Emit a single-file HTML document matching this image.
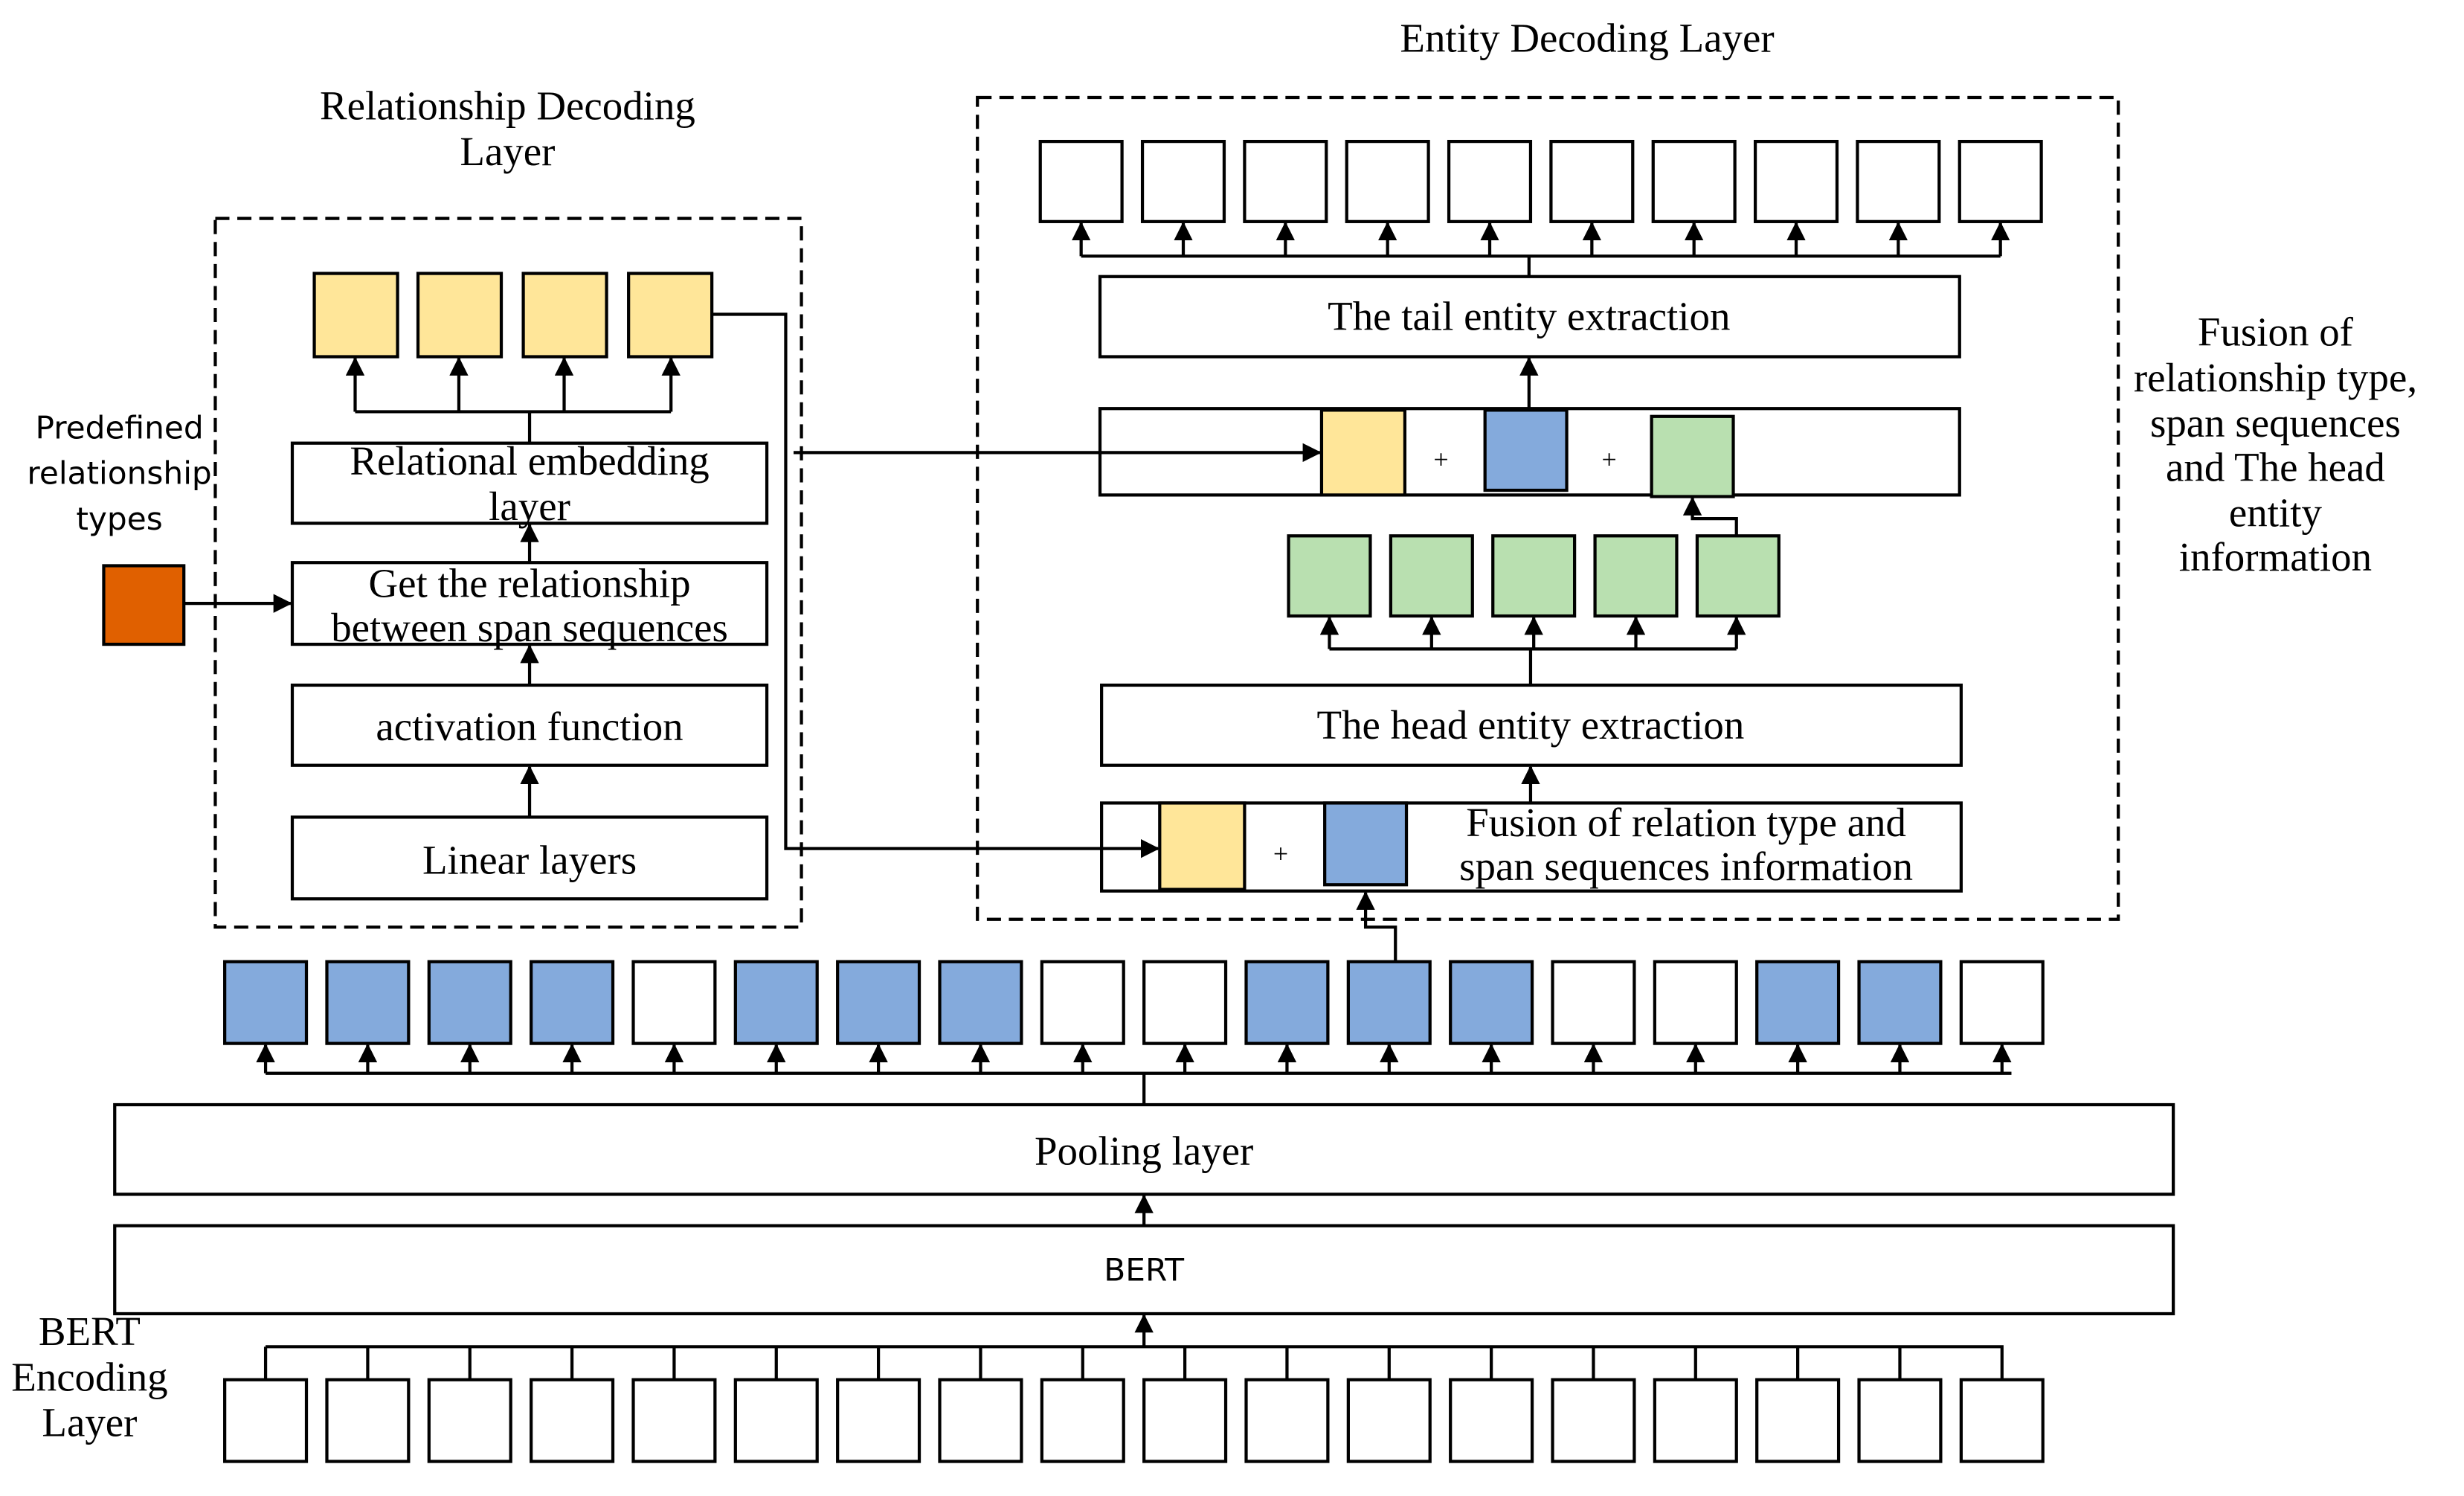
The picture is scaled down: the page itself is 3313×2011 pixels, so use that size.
<!DOCTYPE html>
<html><head><meta charset="utf-8"><style>
html,body{margin:0;padding:0;background:#fff;}
svg{display:block;}
text{font-family:"Liberation Serif",serif;font-size:26px;fill:#000;}
.s{font-family:"DejaVu Sans","Liberation Sans",sans-serif;font-size:20px;}
</style></head><body>
<svg width="3313" height="2011" viewBox="0 0 1568 952" preserveAspectRatio="none" xmlns="http://www.w3.org/2000/svg">
<defs><marker id="a" markerWidth="12" markerHeight="12" refX="11" refY="6" orient="auto" markerUnits="userSpaceOnUse"><path d="M0,0 L12,6 L0,12 z" fill="#000"/></marker></defs>
<g fill="#fff" stroke="#000" stroke-width="2">
<rect x="143" y="878" width="52" height="52"/><rect x="208" y="878" width="52" height="52"/><rect x="273" y="878" width="52" height="52"/><rect x="338" y="878" width="52" height="52"/><rect x="403" y="878" width="52" height="52"/><rect x="468" y="878" width="52" height="52"/><rect x="533" y="878" width="52" height="52"/><rect x="598" y="878" width="52" height="52"/><rect x="663" y="878" width="52" height="52"/><rect x="728" y="878" width="52" height="52"/><rect x="793" y="878" width="52" height="52"/><rect x="858" y="878" width="52" height="52"/><rect x="923" y="878" width="52" height="52"/><rect x="988" y="878" width="52" height="52"/><rect x="1053" y="878" width="52" height="52"/><rect x="1118" y="878" width="52" height="52"/><rect x="1183" y="878" width="52" height="52"/><rect x="1248" y="878" width="52" height="52"/>
<rect x="73" y="780" width="1310" height="56"/>
<rect x="73" y="703" width="1310" height="57"/>
<rect x="143" y="612" width="52" height="52" fill="#84AADC"/><rect x="208" y="612" width="52" height="52" fill="#84AADC"/><rect x="273" y="612" width="52" height="52" fill="#84AADC"/><rect x="338" y="612" width="52" height="52" fill="#84AADC"/><rect x="403" y="612" width="52" height="52"/><rect x="468" y="612" width="52" height="52" fill="#84AADC"/><rect x="533" y="612" width="52" height="52" fill="#84AADC"/><rect x="598" y="612" width="52" height="52" fill="#84AADC"/><rect x="663" y="612" width="52" height="52"/><rect x="728" y="612" width="52" height="52"/><rect x="793" y="612" width="52" height="52" fill="#84AADC"/><rect x="858" y="612" width="52" height="52" fill="#84AADC"/><rect x="923" y="612" width="52" height="52" fill="#84AADC"/><rect x="988" y="612" width="52" height="52"/><rect x="1053" y="612" width="52" height="52"/><rect x="1118" y="612" width="52" height="52" fill="#84AADC"/><rect x="1183" y="612" width="52" height="52" fill="#84AADC"/><rect x="1248" y="612" width="52" height="52"/>
<rect x="137" y="139" width="373" height="451" fill="none" stroke-dasharray="9,5"/>
<rect x="186" y="520" width="302" height="52"/>
<rect x="186" y="436" width="302" height="51"/>
<rect x="186" y="358" width="302" height="52"/>
<rect x="186" y="282" width="302" height="51"/>
<rect x="200" y="174" width="53" height="53" fill="#FFE699"/><rect x="266" y="174" width="53" height="53" fill="#FFE699"/><rect x="333" y="174" width="53" height="53" fill="#FFE699"/><rect x="400" y="174" width="53" height="53" fill="#FFE699"/>
<rect x="66" y="360" width="51" height="50" fill="#E06000"/>
<rect x="622" y="62" width="726" height="523" fill="none" stroke-dasharray="9,5"/>
<rect x="662" y="90" width="52" height="51"/><rect x="727" y="90" width="52" height="51"/><rect x="792" y="90" width="52" height="51"/><rect x="857" y="90" width="52" height="51"/><rect x="922" y="90" width="52" height="51"/><rect x="987" y="90" width="52" height="51"/><rect x="1052" y="90" width="52" height="51"/><rect x="1117" y="90" width="52" height="51"/><rect x="1182" y="90" width="52" height="51"/><rect x="1247" y="90" width="52" height="51"/>
<rect x="700" y="176" width="547" height="51"/>
<rect x="700" y="260" width="547" height="55"/>
<rect x="841" y="261" width="53" height="54" fill="#FFE699"/>
<rect x="945" y="261" width="52" height="51" fill="#84AADC"/>
<rect x="1051" y="265" width="52" height="51" fill="#B9E0B0"/>
<rect x="820" y="341" width="52" height="51" fill="#B9E0B0"/><rect x="885" y="341" width="52" height="51" fill="#B9E0B0"/><rect x="950" y="341" width="52" height="51" fill="#B9E0B0"/><rect x="1015" y="341" width="52" height="51" fill="#B9E0B0"/><rect x="1080" y="341" width="52" height="51" fill="#B9E0B0"/>
<rect x="701" y="436" width="547" height="51"/>
<rect x="701" y="511" width="547" height="56"/>
<rect x="738" y="511" width="54" height="55" fill="#FFE699"/>
<rect x="843" y="511" width="52" height="52" fill="#84AADC"/>
</g>
<g fill="none" stroke="#000" stroke-width="2">
<path d="M169,857H1275M169,857V878M234,857V878M299,857V878M364,857V878M429,857V878M494,857V878M559,857V878M624,857V878M689,857V878M754,857V878M819,857V878M884,857V878M949,857V878M1014,857V878M1079,857V878M1144,857V878M1209,857V878M1274,857V878"/>
<path d="M728,857V837" marker-end="url(#a)"/>
<path d="M728,780V761" marker-end="url(#a)"/>
<path d="M728,703V683M169,683H1280"/>
<path d="M169,683V665" marker-end="url(#a)"/><path d="M234,683V665" marker-end="url(#a)"/><path d="M299,683V665" marker-end="url(#a)"/><path d="M364,683V665" marker-end="url(#a)"/><path d="M429,683V665" marker-end="url(#a)"/><path d="M494,683V665" marker-end="url(#a)"/><path d="M559,683V665" marker-end="url(#a)"/><path d="M624,683V665" marker-end="url(#a)"/><path d="M689,683V665" marker-end="url(#a)"/><path d="M754,683V665" marker-end="url(#a)"/><path d="M819,683V665" marker-end="url(#a)"/><path d="M884,683V665" marker-end="url(#a)"/><path d="M949,683V665" marker-end="url(#a)"/><path d="M1014,683V665" marker-end="url(#a)"/><path d="M1079,683V665" marker-end="url(#a)"/><path d="M1144,683V665" marker-end="url(#a)"/><path d="M1209,683V665" marker-end="url(#a)"/><path d="M1274,683V665" marker-end="url(#a)"/>
<path d="M888,612V590H869V568" marker-end="url(#a)"/>
<path d="M337,520V488" marker-end="url(#a)"/>
<path d="M337,436V411" marker-end="url(#a)"/>
<path d="M337,358V334" marker-end="url(#a)"/>
<path d="M337,282V262M226,262H427"/>
<path d="M226,262V228" marker-end="url(#a)"/><path d="M292,262V228" marker-end="url(#a)"/><path d="M359,262V228" marker-end="url(#a)"/><path d="M427,262V228" marker-end="url(#a)"/>
<path d="M117,384H185" marker-end="url(#a)"/>
<path d="M453,200H500V540H737" marker-end="url(#a)"/>
<path d="M505,288H840" marker-end="url(#a)"/>
<path d="M973,176V163M688,163H1273"/>
<path d="M688,163V142" marker-end="url(#a)"/><path d="M753,163V142" marker-end="url(#a)"/><path d="M818,163V142" marker-end="url(#a)"/><path d="M883,163V142" marker-end="url(#a)"/><path d="M948,163V142" marker-end="url(#a)"/><path d="M1013,163V142" marker-end="url(#a)"/><path d="M1078,163V142" marker-end="url(#a)"/><path d="M1143,163V142" marker-end="url(#a)"/><path d="M1208,163V142" marker-end="url(#a)"/><path d="M1273,163V142" marker-end="url(#a)"/>
<path d="M973,260V228" marker-end="url(#a)"/>
<path d="M1105,341V330H1077V317" marker-end="url(#a)"/>
<path d="M974,436V413M846,413H1105"/>
<path d="M846,413V393" marker-end="url(#a)"/><path d="M911,413V393" marker-end="url(#a)"/><path d="M976,413V393" marker-end="url(#a)"/><path d="M1041,413V393" marker-end="url(#a)"/><path d="M1105,413V393" marker-end="url(#a)"/>
<path d="M974,511V488" marker-end="url(#a)"/>
</g>
<g text-anchor="middle">
<text x="728" y="815" class="s">BERT</text>
<text x="728" y="741">Pooling layer</text>
<text x="337" y="556">Linear layers</text>
<text x="337" y="471">activation function</text>
<text x="337" y="380">Get the relationship</text>
<text x="337" y="408">between span sequences</text>
<text x="337" y="302">Relational embedding</text>
<text x="337" y="331">layer</text>
<text x="323" y="76">Relationship Decoding</text>
<text x="323" y="105">Layer</text>
<text x="76" y="279" class="s">Predefined</text>
<text x="76" y="308" class="s">relationship</text>
<text x="76" y="337" class="s">types</text>
<text x="1010" y="33">Entity Decoding Layer</text>
<text x="973" y="210">The tail entity extraction</text>
<text x="917" y="298" style="font-size:17px">+</text>
<text x="1024" y="298" style="font-size:17px">+</text>
<text x="974" y="470">The head entity extraction</text>
<text x="815" y="549" style="font-size:17px">+</text>
<text x="1073" y="532">Fusion of relation type and</text>
<text x="1073" y="560">span sequences information</text>
<text x="1448" y="220">Fusion of</text>
<text x="1448" y="249">relationship type,</text>
<text x="1448" y="278">span sequences</text>
<text x="1448" y="306">and The head</text>
<text x="1448" y="335">entity</text>
<text x="1448" y="363">information</text>
<text x="57" y="856">BERT</text>
<text x="57" y="885">Encoding</text>
<text x="57" y="914">Layer</text>
</g>
</svg>
</body></html>
